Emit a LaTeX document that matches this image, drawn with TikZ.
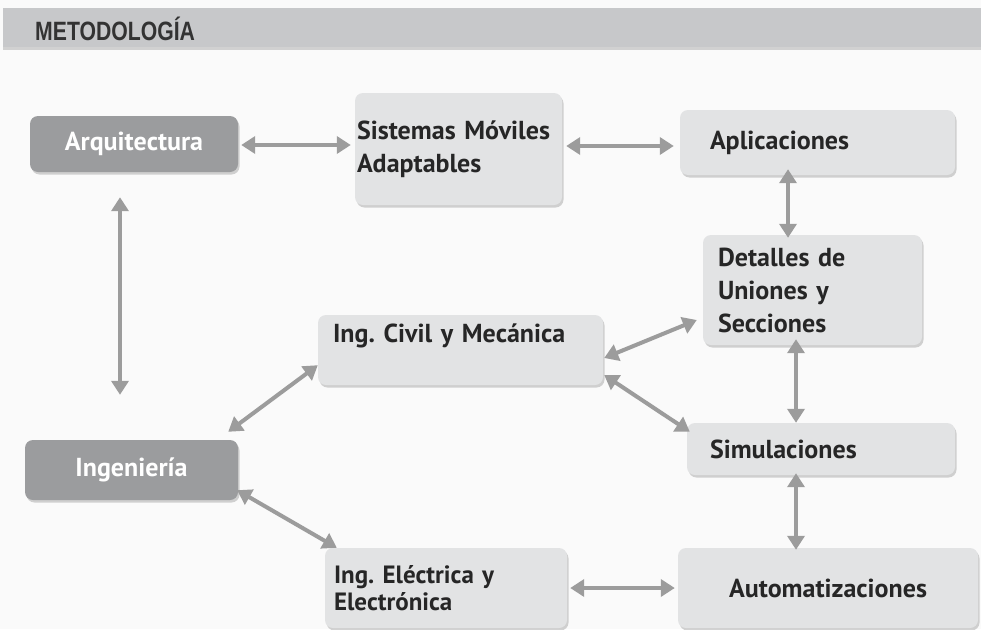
\documentclass[tikz,border=0pt]{standalone}
\usepackage{fontspec}
\setmainfont{PT Sans}
\newfontfamily\hdrfont{Liberation Sans}[FakeStretch=0.8]
\usetikzlibrary{arrows.meta,shadows}
\definecolor{darkbox}{HTML}{9B9C9E}
\definecolor{lightbox}{HTML}{E2E3E4}
\definecolor{arrowgray}{HTML}{9C9C9C}
\definecolor{hdrgray}{HTML}{C7C8CA}
\definecolor{txt}{HTML}{262626}
\frenchspacing
\begin{document}
\begin{tikzpicture}[x=1pt,y=-1pt,
  basebox/.style={rectangle, rounded corners=8pt, inner ysep=0pt,
    font=\fontsize{26}{33}\selectfont\bfseries,
    drop shadow={shadow xshift=1.5pt, shadow yshift=-2.5pt, fill=black!35, opacity=0.5}},
  darknode/.style={basebox, fill=darkbox, text=white, align=center},
  lightnode/.style={basebox, fill=lightbox, text=txt, align=left},
  arr/.style={draw=arrowgray, line width=4pt,
    {Triangle[width=17pt,length=14pt]}-{Triangle[width=17pt,length=14pt]}}
]
\useasboundingbox (0,0) rectangle (981,629);
\fill[white!98!black] (0,0) rectangle (981,629);
% header
\fill[black!18] (3,10) rectangle (981,50);
\fill[hdrgray] (3,8) rectangle (981,47);
\node[anchor=west, inner sep=0pt, text=black!80, font=\hdrfont\bfseries\fontsize{26.5}{30}\selectfont] (hdr) at (35,29) {METODOLOGÍA};

% boxes
\node[darknode, minimum width=208pt, minimum height=56pt] (arq) at (134,144) {Arquitectura};
\node[lightnode, minimum height=112pt, inner xsep=2pt, text width=203pt] (sis) at (458.5,149) {Sistemas Móviles\\Adaptables};
\node[lightnode, minimum height=65pt, inner xsep=30pt, text width=215pt] (apl) at (817.5,142.5) {Aplicaciones};
\node[lightnode, minimum height=110pt, inner xsep=15pt, text width=189pt] (det) at (812.5,290) {Detalles de\\Uniones y\\Secciones};
\node[lightnode, minimum height=70pt, inner xsep=15pt, text width=255pt] (civ) at (460.5,350) {Ing. Civil y Mecánica\\\mbox{}};
\node[darknode, minimum width=213pt, minimum height=60pt] (ing) at (131.5,470) {Ingeniería};
\node[lightnode, minimum height=52pt, inner xsep=23pt, text width=222pt] (sim) at (821,449) {Simulaciones};
\node[lightnode, minimum height=80pt, inner xsep=9pt, text width=224pt, font=\fontsize{25}{27}\selectfont\bfseries] (ele) at (446,588) {Ing. Eléctrica y\\Electrónica};
\node[lightnode, align=center, minimum width=300pt, minimum height=80pt] (aut) at (828,588) {Automatizaciones};

% connectors
\draw[arr] ([shift={(3,1)}]arq.east) -- ([shift={(-4,-4)}]sis.west);
\draw[arr] ([shift={(4,-3)}]sis.east) -- ([shift={(-6,3.5)}]apl.west);
\draw[arr] ([shift={(-29.5,-6)}]apl.south) -- ([shift={(-24.5,3)}]det.north);
\draw[arr] ([shift={(-14,25)}]arq.south) -- ([shift={(-11.5,-45)}]ing.north);
\draw[arr] ([shift={(-10,-8)}]ing.north east) -- ([shift={(0,-20)}]civ.south west);
\draw[arr] ([shift={(-1,-10)}]ing.south east) -- ([shift={(12,0)}]ele.north west);
\draw[arr] ([shift={(1,8)}]civ.east) -- ([shift={(-6,30)}]det.west);
\draw[arr] ([shift={(1,25)}]civ.east) -- ([shift={(3,9)}]sim.north west);
\draw[arr] ([shift={(-16.5,-6)}]det.south) -- ([shift={(-25,0)}]sim.north);
\draw[arr] ([shift={(-25,-2)}]sim.south) -- ([shift={(-32,2)}]aut.north);
\draw[arr] ([shift={(3,0)}]ele.east) -- ([shift={(-3,0)}]aut.west);
\end{tikzpicture}
\end{document}
